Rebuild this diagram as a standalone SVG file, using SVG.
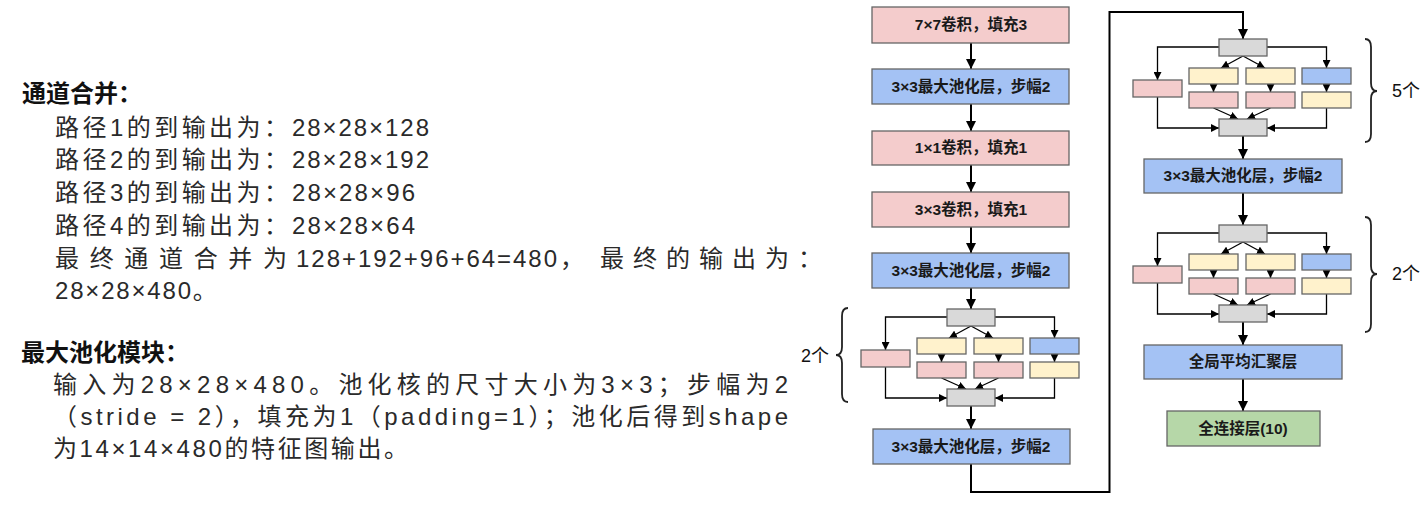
<svg xmlns="http://www.w3.org/2000/svg" width="1421" height="505" viewBox="0 0 1421 505">
<style>
.bx{stroke:#666;stroke-width:1.3}
.pk{fill:#f4cccc}.bl{fill:#a4c2f4}.yl{fill:#fff2cc}.gr{fill:#d9d9d9}.gn{fill:#b6d7a8}
.lbl{font-family:"Liberation Sans","Noto Sans CJK SC",sans-serif;font-size:15.5px;font-weight:bold;fill:#1a1a1a;text-anchor:middle}
.main{fill:none;stroke:#000;stroke-width:2;marker-end:url(#ah)}
.inn{fill:none;stroke:#000;stroke-width:1.3;marker-end:url(#ah2)}
.ttl{font-family:"Liberation Sans","Noto Sans CJK SC",sans-serif;font-size:24px;font-weight:bold;fill:#111}
.body{font-family:"Liberation Sans","Noto Sans CJK SC",sans-serif;font-size:24px;fill:#2a2a2a}
.cnt{font-family:"Liberation Sans","Noto Sans CJK SC",sans-serif;font-size:18px;fill:#111}
.brace{fill:none;stroke:#222;stroke-width:1.8}
</style>
<defs>
<marker id="ah" viewBox="0 0 10 10" refX="10" refY="5" markerWidth="10" markerHeight="10" markerUnits="userSpaceOnUse" orient="auto"><path d="M0,0 L10,5 L0,10 z" fill="#000"/></marker>
<marker id="ah2" viewBox="0 0 10 10" refX="10" refY="5" markerWidth="8" markerHeight="8" markerUnits="userSpaceOnUse" orient="auto"><path d="M0,0 L10,5 L0,10 z" fill="#000"/></marker>
</defs>
<rect width="1421" height="505" fill="#fff"/>

<!-- left text -->
<g id="text-merge">
<text class="ttl" x="22" y="102">通道合并：</text>
<text class="body" y="136"><tspan x="55" textLength="233">路径1的到输出为：</tspan><tspan x="292" textLength="137">28×28×128</tspan></text>
<text class="body" y="168"><tspan x="55" textLength="233">路径2的到输出为：</tspan><tspan x="292" textLength="137">28×28×192</tspan></text>
<text class="body" y="201"><tspan x="55" textLength="233">路径3的到输出为：</tspan><tspan x="292" textLength="123">28×28×96</tspan></text>
<text class="body" y="234"><tspan x="55" textLength="233">路径4的到输出为：</tspan><tspan x="292" textLength="123">28×28×64</tspan></text>
<text class="body" y="267"><tspan x="55" textLength="232">最终通道合并为</tspan><tspan x="296" textLength="261">128+192+96+64=480</tspan><tspan x="560">，</tspan><tspan x="600" textLength="222">最终的输出为：</tspan></text>
<text class="body" y="299"><tspan x="55" textLength="136">28×28×480</tspan>。</text>
</g>
<g id="text-pool">
<text class="ttl" x="21" y="361">最大池化模块：</text>
<text class="body" x="53" y="393" textLength="735">输入为28×28×480。池化核的尺寸大小为3×3；步幅为2</text>
<text class="body" x="53" y="425" textLength="735">（stride = 2），填充为1（padding=1）；池化后得到shape</text>
<text class="body" x="53" y="457" textLength="355">为14×14×480的特征图输出。</text>
</g>

<!-- connectors -->
<g id="connectors">
<path class="main" d="M971,43 V69"/>
<path class="main" d="M971,104 V131"/>
<path class="main" d="M971,165 V192"/>
<path class="main" d="M971,227 V253"/>
<path class="main" d="M971,288 V309"/>
<path class="main" d="M971,406 V429"/>
<path class="main" d="M971,464 V492 H1109.5 V12 H1243 V39"/>
<path class="main" d="M1243,136 V159"/>
<path class="main" d="M1243,193 V225"/>
<path class="main" d="M1243,322 V345"/>
<path class="main" d="M1243,379 V411"/>
<g transform="translate(971,309)">
<path class="inn" d="M-24,8 H-85.5 V41"/><path class="inn" d="M24,8 H83.5 V29"/>
<path class="inn" d="M0,17 L-22,29"/><path class="inn" d="M0,17 L22,29"/>
<path class="inn" d="M-29.5,45 V53"/><path class="inn" d="M27.5,45 V53"/><path class="inn" d="M83.5,45 V53"/>
<path class="inn" d="M-29.5,69 L-5,80"/><path class="inn" d="M27.5,69 L4,80"/>
<path class="inn" d="M-85.5,58 V89 H-24"/><path class="inn" d="M83.5,69 V89 H24"/>
</g>
<g transform="translate(1243,39)">
<path class="inn" d="M-24,8 H-85.5 V41"/><path class="inn" d="M24,8 H83.5 V29"/>
<path class="inn" d="M0,17 L-22,29"/><path class="inn" d="M0,17 L22,29"/>
<path class="inn" d="M-29.5,45 V53"/><path class="inn" d="M27.5,45 V53"/><path class="inn" d="M83.5,45 V53"/>
<path class="inn" d="M-29.5,69 L-5,80"/><path class="inn" d="M27.5,69 L4,80"/>
<path class="inn" d="M-85.5,58 V89 H-24"/><path class="inn" d="M83.5,69 V89 H24"/>
</g>
<g transform="translate(1243,225)">
<path class="inn" d="M-24,8 H-85.5 V41"/><path class="inn" d="M24,8 H83.5 V29"/>
<path class="inn" d="M0,17 L-22,29"/><path class="inn" d="M0,17 L22,29"/>
<path class="inn" d="M-29.5,45 V53"/><path class="inn" d="M27.5,45 V53"/><path class="inn" d="M83.5,45 V53"/>
<path class="inn" d="M-29.5,69 L-5,80"/><path class="inn" d="M27.5,69 L4,80"/>
<path class="inn" d="M-85.5,58 V89 H-24"/><path class="inn" d="M83.5,69 V89 H24"/>
</g>
</g>

<!-- main column nodes -->
<g id="n-conv7"><rect class="bx pk" x="872" y="7" width="197" height="36"/><text class="lbl" x="971" y="30">7×7卷积，填充3</text></g>
<g id="n-pool1"><rect class="bx bl" x="872" y="69" width="197" height="35"/><text class="lbl" x="971" y="92">3×3最大池化层，步幅2</text></g>
<g id="n-conv1"><rect class="bx pk" x="872" y="131" width="197" height="34"/><text class="lbl" x="971" y="153">1×1卷积，填充1</text></g>
<g id="n-conv3"><rect class="bx pk" x="872" y="192" width="197" height="35"/><text class="lbl" x="971" y="215">3×3卷积，填充1</text></g>
<g id="n-pool2"><rect class="bx bl" x="872" y="253" width="197" height="35"/><text class="lbl" x="971" y="276">3×3最大池化层，步幅2</text></g>

<g id="inception-a" transform="translate(971,309)">
<g id="a-in"><rect class="bx gr" x="-24" y="0" width="48" height="17"/></g>
<g id="a-p1"><rect class="bx pk" x="-110" y="41" width="49" height="17"/></g>
<g id="a-y1"><rect class="bx yl" x="-54" y="29" width="49" height="16"/></g>
<g id="a-p2"><rect class="bx pk" x="-54" y="53" width="49" height="16"/></g>
<g id="a-y2"><rect class="bx yl" x="3" y="29" width="49" height="16"/></g>
<g id="a-p3"><rect class="bx pk" x="3" y="53" width="49" height="16"/></g>
<g id="a-b4"><rect class="bx bl" x="59" y="29" width="49" height="16"/></g>
<g id="a-y4"><rect class="bx yl" x="59" y="53" width="49" height="16"/></g>
<g id="a-out"><rect class="bx gr" x="-24" y="80" width="48" height="17"/></g>
</g>

<g id="n-pool3"><rect class="bx bl" x="873" y="429" width="197" height="35"/><text class="lbl" x="971" y="452">3×3最大池化层，步幅2</text></g>

<g id="inception-b" transform="translate(1243,39)">
<g id="b-in"><rect class="bx gr" x="-24" y="0" width="48" height="17"/></g>
<g id="b-p1"><rect class="bx pk" x="-110" y="41" width="49" height="17"/></g>
<g id="b-y1"><rect class="bx yl" x="-54" y="29" width="49" height="16"/></g>
<g id="b-p2"><rect class="bx pk" x="-54" y="53" width="49" height="16"/></g>
<g id="b-y2"><rect class="bx yl" x="3" y="29" width="49" height="16"/></g>
<g id="b-p3"><rect class="bx pk" x="3" y="53" width="49" height="16"/></g>
<g id="b-b4"><rect class="bx bl" x="59" y="29" width="49" height="16"/></g>
<g id="b-y4"><rect class="bx yl" x="59" y="53" width="49" height="16"/></g>
<g id="b-out"><rect class="bx gr" x="-24" y="80" width="48" height="17"/></g>
</g>

<g id="n-pool4"><rect class="bx bl" x="1144" y="159" width="198" height="34"/><text class="lbl" x="1243" y="181">3×3最大池化层，步幅2</text></g>

<g id="inception-c" transform="translate(1243,225)">
<g id="c-in"><rect class="bx gr" x="-24" y="0" width="48" height="17"/></g>
<g id="c-p1"><rect class="bx pk" x="-110" y="41" width="49" height="17"/></g>
<g id="c-y1"><rect class="bx yl" x="-54" y="29" width="49" height="16"/></g>
<g id="c-p2"><rect class="bx pk" x="-54" y="53" width="49" height="16"/></g>
<g id="c-y2"><rect class="bx yl" x="3" y="29" width="49" height="16"/></g>
<g id="c-p3"><rect class="bx pk" x="3" y="53" width="49" height="16"/></g>
<g id="c-b4"><rect class="bx bl" x="59" y="29" width="49" height="16"/></g>
<g id="c-y4"><rect class="bx yl" x="59" y="53" width="49" height="16"/></g>
<g id="c-out"><rect class="bx gr" x="-24" y="80" width="48" height="17"/></g>
</g>

<g id="n-gap"><rect class="bx bl" x="1144" y="345" width="198" height="34"/><text class="lbl" x="1243" y="367">全局平均汇聚层</text></g>
<g id="n-fc"><rect class="bx gn" x="1167" y="411" width="153" height="35"/><text class="lbl" x="1243" y="434">全连接层(10)</text></g>

<!-- braces -->
<g id="brace-a">
<path class="brace" d="M848,308 Q842,308 842,316 L842,347 Q842,355 836,355 Q842,355 842,363 L842,394 Q842,402 848,402"/>
<text class="cnt" x="801" y="362">2个</text>
</g>
<g id="brace-b">
<path class="brace" d="M1365,39 Q1371,39 1371,47 L1371,83 Q1371,91 1377,91 Q1371,91 1371,99 L1371,134 Q1371,142 1365,142"/>
<text class="cnt" x="1392" y="97">5个</text>
</g>
<g id="brace-c">
<path class="brace" d="M1365,217 Q1371,217 1371,225 L1371,266 Q1371,274 1377,274 Q1371,274 1371,282 L1371,324 Q1371,332 1365,332"/>
<text class="cnt" x="1392" y="280">2个</text>
</g>
</svg>
